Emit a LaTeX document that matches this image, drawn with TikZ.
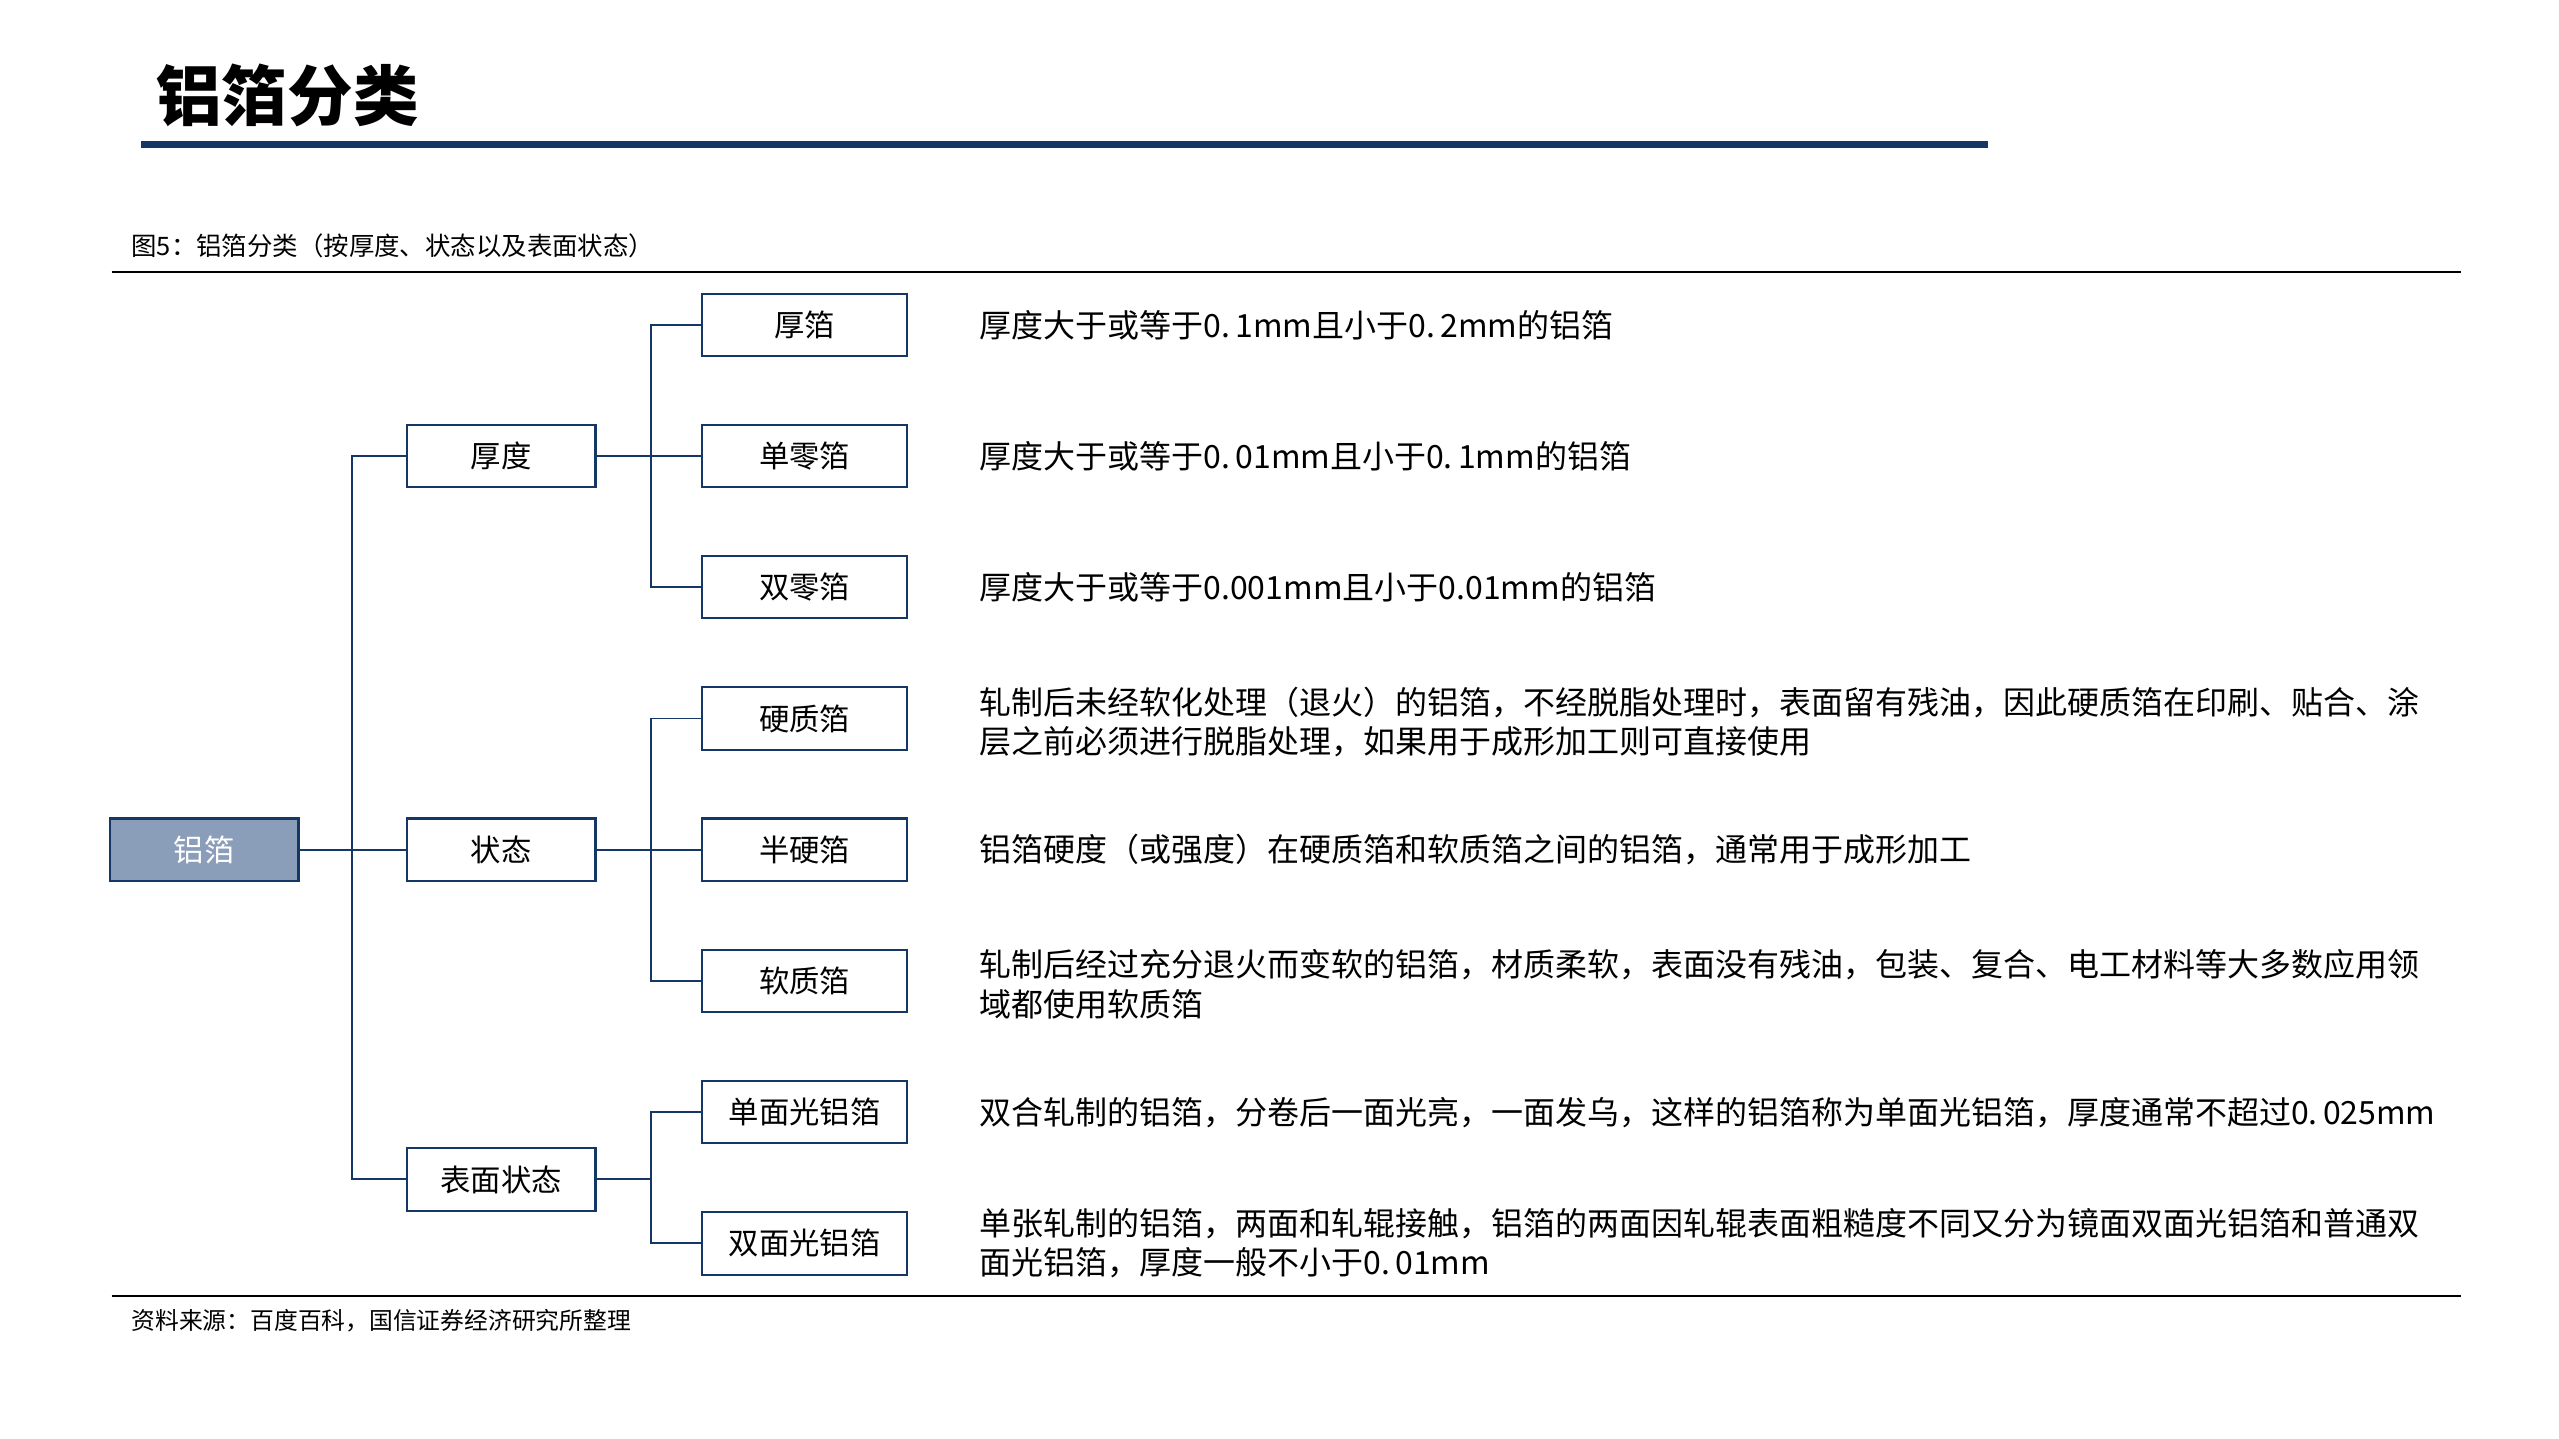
\documentclass[tikz,border=0pt]{standalone}
\usepackage{fontspec}
\newfontfamily\cjk{Noto Sans CJK SC}
\definecolor{navy}{RGB}{20,55,100}
\definecolor{rootfill}{RGB}{138,158,185}
\begin{document}
\begin{tikzpicture}[x=1pt,y=-1pt,
  bx/.style={draw=navy,line width=1.3pt,minimum height=38pt,inner sep=0pt,font=\cjk\fontsize{18.5}{20}\selectfont},
  lone/.style={bx,minimum width=115pt},
  ltwo/.style={bx,minimum width=125pt},
  desc/.style={anchor=west,align=left,inner sep=0pt,font=\cjk\fontsize{19.5}{24}\selectfont},
  edge/.style={draw=navy,line width=1.2pt}]
\useasboundingbox (0,0) rectangle (1560,877);
\node[anchor=west,inner sep=0pt,font=\cjk\bfseries\fontsize{40}{44}\selectfont] (title) at (95,58) {铝箔分类};
\draw[navy,line width=4.5pt] (86,88) -- (1212,88);
\node[anchor=west,inner sep=0pt,font=\cjk\fontsize{15.5}{18}\selectfont] (cap) at (80,150) {图5：铝箔分类（按厚度、状态以及表面状态）};
\draw[line width=1pt] (68,166) -- (1500,166);
\draw[line width=1pt] (68,790) -- (1500,790);
\node[anchor=west,inner sep=0pt,font=\cjk\fontsize{14.5}{17}\selectfont] (src) at (80,805) {资料来源：百度百科，国信证券经济研究所整理};
\node[bx,minimum width=115pt,fill=rootfill,text=white] (root) at (124.5,518) {铝箔};
\node[lone] (a) at (305.5,278) {厚度};
\node[lone] (b) at (305.5,518) {状态};
\node[lone] (c) at (305.5,719) {表面状态};
\node[ltwo] (a1) at (490.5,198) {厚箔};
\node[ltwo] (a2) at (490.5,278) {单零箔};
\node[ltwo] (a3) at (490.5,358) {双零箔};
\node[ltwo] (b1) at (490.5,438) {硬质箔};
\node[ltwo] (b2) at (490.5,518) {半硬箔};
\node[ltwo] (b3) at (490.5,598) {软质箔};
\node[ltwo] (c1) at (490.5,678) {单面光铝箔};
\node[ltwo] (c2) at (490.5,758) {双面光铝箔};
\draw[edge] (root.east) -- (b.west);
\draw[edge] (a.west) -- ++(-33,0) |- (c.west);
\draw[edge] (a.east) -- ++(33,0) coordinate (ja);
\draw[edge] (a1.west) -| (ja) |- (a3.west); \draw[edge] (ja) -- (a2.west);
\draw[edge] (b.east) -- ++(33,0) coordinate (jb);
\draw[edge] (b1.west) -| (jb) |- (b3.west); \draw[edge] (jb) -- (b2.west);
\draw[edge] (c.east) -- ++(33,0) coordinate (jc);
\draw[edge] (c1.west) -| (jc) |- (c2.west);
\node[desc] (d1) at (597,198) {厚度大于或等于0.\,1mm且小于0.\,2mm的铝箔};
\node[desc] (d2) at (597,278) {厚度大于或等于0.\,01mm且小于0.\,1mm的铝箔};
\node[desc] (d3) at (597,358) {厚度大于或等于0.001mm且小于0.01mm的铝箔};
\node[desc] (d4) at (597,440) {轧制后未经软化处理（退火）的铝箔，不经脱脂处理时，表面留有残油，因此硬质箔在印刷、贴合、涂\\层之前必须进行脱脂处理，如果用于成形加工则可直接使用};
\node[desc] (d5) at (597,518) {铝箔硬度（或强度）在硬质箔和软质箔之间的铝箔，通常用于成形加工};
\node[desc] (d6) at (597,600) {轧制后经过充分退火而变软的铝箔，材质柔软，表面没有残油，包装、复合、电工材料等大多数应用领\\域都使用软质箔};
\node[desc] (d7) at (597,678) {双合轧制的铝箔，分卷后一面光亮，一面发乌，这样的铝箔称为单面光铝箔，厚度通常不超过0.\,025mm};
\node[desc] (d8) at (597,758) {单张轧制的铝箔，两面和轧辊接触，铝箔的两面因轧辊表面粗糙度不同又分为镜面双面光铝箔和普通双\\面光铝箔，厚度一般不小于0.\,01mm};
\end{tikzpicture}
\end{document}
